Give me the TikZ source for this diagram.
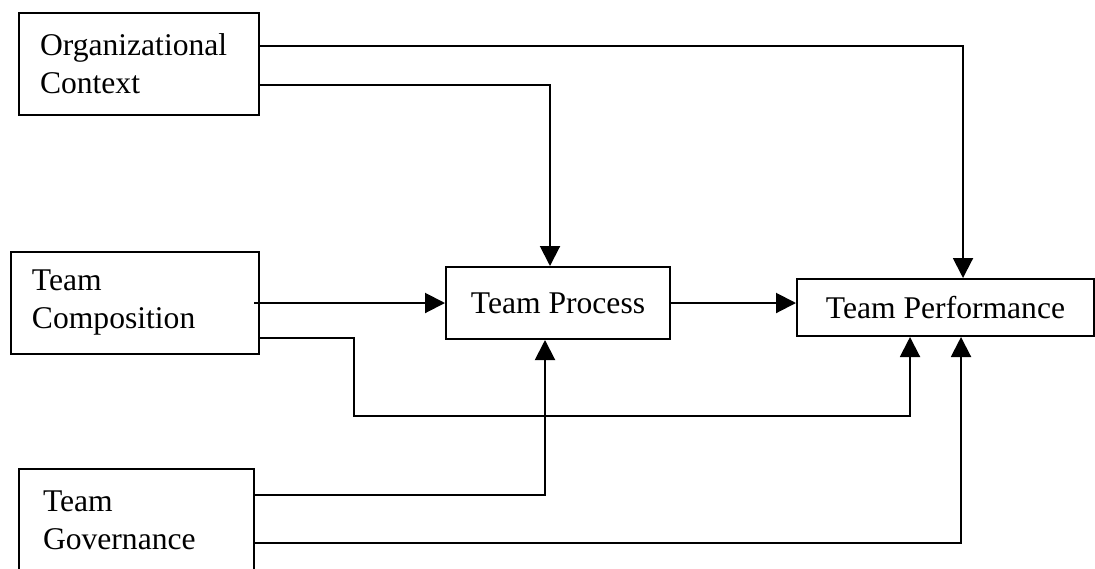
\documentclass[tikz,border=0pt]{standalone}
\usepackage{fontspec}
\setmainfont{Liberation Serif}
\usetikzlibrary{calc,arrows.meta}

\begin{document}
\begin{tikzpicture}[x=0.5pt, y=-0.5pt, font=\fontsize{15.8}{19}\selectfont]
        \tikzstyle{factor}=[draw, line width=1pt, align=left, inner xsep=10.5pt, minimum height=51pt]
        \tikzstyle{stage}=[draw, line width=1pt, align=center, inner sep=0pt]
        \tikzstyle{flow}=[line width=1pt, -{Triangle[length=10pt,width=10pt]}]
        \useasboundingbox (0,0) rectangle (1095,568);
        \node [factor, text width=99pt] (org) at (139,64) {Organizational\\Context};
        \node [factor, text width=103pt] (comp) at (135,303) {Team\\Composition};
        \node [factor, text width=93.5pt, inner xsep=12pt] (gov) at (136.5,520) {Team\\Governance};
        \node [stage, minimum width=112pt, minimum height=36pt] (proc) at (558,303) {Team Process};
        \node [stage, minimum width=148.5pt, minimum height=28.5pt] (perf) at (945.5,307.5) {Team Performance};
        \draw [flow] ($(org.east)+(0,-18)$) -| ($(perf.north)+(17.5,0)$);
        \draw [flow] ($(org.east)+(0,21)$) -| ($(proc.north)+(-8,0)$);
        \draw [flow] ($(comp.east)+(-6,0)$) -- (proc.west);
        \draw [flow] ($(comp.east)+(0,35)$) -| ($(comp.east)+(94,113)$) -| ($(perf.south)+(-35.5,0)$);
        \draw [flow] (proc.east) -- (proc.east -| perf.west);
        \draw [flow] ($(gov.east)+(0,-25)$) -| ($(proc.south)+(-13,0)$);
        \draw [flow] ($(gov.east)+(0,23)$) -| ($(perf.south)+(15.5,0)$);
    \end{tikzpicture}
\end{document}
